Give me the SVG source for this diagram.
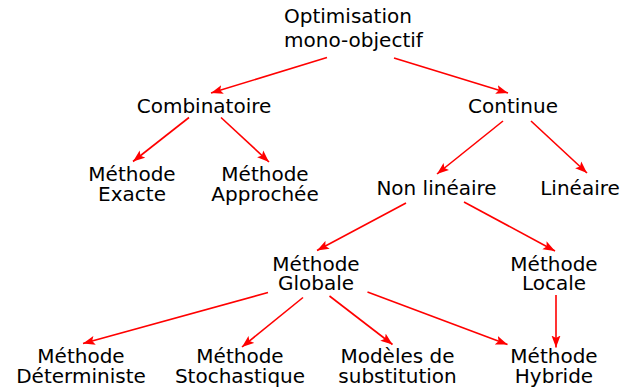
<svg xmlns="http://www.w3.org/2000/svg" width="621" height="392" viewBox="0 0 621 392">
<style>
text{font-family:"DejaVu Sans",Verdana,sans-serif;font-size:20px;fill:#000;text-anchor:middle}
.l{text-anchor:start}
.c line{stroke:#ff0000;stroke-width:1.6;marker-end:url(#ah)}
</style>
<defs>
<marker id="ah" markerUnits="userSpaceOnUse" markerWidth="14" markerHeight="10" refX="12" refY="5" orient="auto" viewBox="0 0 14 10">
<path d="M0,0.5 L12,5 L0,9.5 L2.5,5 z" fill="#ff0000"/>
</marker>
</defs>
<rect width="621" height="392" fill="#fff"/>
<g class="c" id="connectors">
<line x1="327" y1="57.5" x2="211" y2="93"/>
<line x1="394" y1="58" x2="508" y2="93"/>
<line x1="189" y1="117.5" x2="133" y2="161.5"/>
<line x1="221" y1="117.5" x2="269" y2="162"/>
<line x1="503" y1="121" x2="437" y2="174"/>
<line x1="531" y1="121" x2="587" y2="173"/>
<line x1="406" y1="203" x2="317" y2="250.5"/>
<line x1="464" y1="202" x2="555" y2="251"/>
<line x1="268" y1="292.5" x2="83" y2="343.5"/>
<line x1="303" y1="297.5" x2="242" y2="347"/>
<line x1="329.5" y1="296" x2="392.5" y2="344.5"/>
<line x1="367.5" y1="292" x2="507.5" y2="344.5"/>
<line x1="556" y1="295" x2="556" y2="347.5"/>
</g>
<g id="n-root"><text class="l" x="284" y="23">Optimisation</text><text class="l" x="284" y="47">mono-objectif</text></g>
<g id="n-combinatoire"><text x="204" y="113">Combinatoire</text></g>
<g id="n-continue"><text x="513" y="113">Continue</text></g>
<g id="n-exacte"><text x="132" y="181">Méthode</text><text x="132" y="201">Exacte</text></g>
<g id="n-approchee"><text x="265" y="181">Méthode</text><text x="265" y="201">Approchée</text></g>
<g id="n-nonlineaire"><text x="436.5" y="195">Non linéaire</text></g>
<g id="n-lineaire"><text x="580" y="195">Linéaire</text></g>
<g id="n-globale"><text x="316" y="271">Méthode</text><text x="316" y="290">Globale</text></g>
<g id="n-locale"><text x="554" y="271">Méthode</text><text x="554" y="290">Locale</text></g>
<g id="n-deterministe"><text x="81" y="363">Méthode</text><text x="81" y="383">Déterministe</text></g>
<g id="n-stochastique"><text x="240" y="363">Méthode</text><text x="240" y="383">Stochastique</text></g>
<g id="n-modeles"><text x="397.5" y="363">Modèles de</text><text x="397.5" y="383">substitution</text></g>
<g id="n-hybride"><text x="554" y="363">Méthode</text><text x="554" y="383">Hybride</text></g>
</svg>
